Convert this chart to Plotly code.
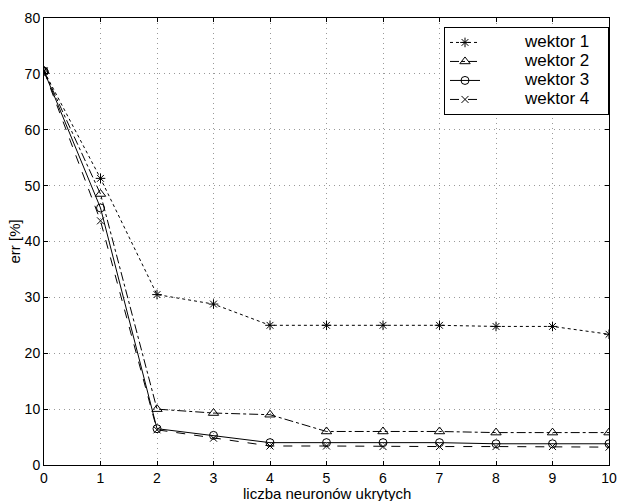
import plotly.graph_objects as go

x_vals = [0, 1, 2, 3, 4, 5, 6, 7, 8, 9, 10]
wektor1 = [70.5, 51.3, 30.5, 28.8, 25.0, 25.0, 25.0, 25.0, 24.8, 24.8, 23.4]
wektor2 = [70.5, 48.5, 10.0, 9.3, 9.0, 6.0, 6.0, 6.0, 5.8, 5.8, 5.8]
wektor3 = [70.5, 46.0, 6.5, 5.3, 4.0, 4.0, 4.0, 4.0, 3.8, 3.8, 3.8]
wektor4 = [70.5, 43.7, 6.3, 4.8, 3.4, 3.4, 3.3, 3.3, 3.3, 3.3, 3.2]
names = ["wektor 1", "wektor 2", "wektor 3", "wektor 4"]
x_ticks = list(range(0, 11))
y_ticks = list(range(0, 81, 10))
x_title = "liczba neuronów ukrytych"
y_title = "err [%]"

series = [wektor1, wektor2, wektor3, wektor4]
dashes = ["dot", "dashdot", "solid", "dash"]
symbols = ["asterisk-open", "triangle-up-open", "circle-open", "x-thin-open"]
msizes = [8, 9, 8, 7]

NB = "\u00a0"
fig = go.Figure()
for s, n, d, sym, ms in zip(series, names, dashes, symbols, msizes):
    fig.add_trace(go.Scatter(
        x=x_vals, y=s,
        name=NB * 12 + '<span style="font-size:17px">' + n + "</span>" + NB * 4,
        mode="lines+markers",
        line=dict(color="black", width=1, dash=d),
        marker=dict(symbol=sym, size=ms, color="black", line=dict(color="black", width=1)),
    ))

axis_common = dict(
    showline=True, linecolor="black", linewidth=1, mirror="ticks",
    ticks="inside", ticklen=4, tickcolor="black",
    showgrid=True, gridcolor="#999999", griddash="1px,4px", gridwidth=1,
    zeroline=False, ticklabeloverflow="allow",
    tickfont=dict(family="Liberation Sans, Arial, sans-serif", size=14, color="black"),
)

fig.update_layout(
    width=623, height=501,
    margin=dict(l=44, r=6, t=18, b=36),
    paper_bgcolor="white", plot_bgcolor="white",
    font=dict(family="Liberation Sans, Arial, sans-serif", color="black"),
    xaxis=dict(range=[0, 10], tickvals=x_ticks, **axis_common),
    yaxis=dict(range=[0, 80], tickvals=y_ticks, **axis_common),
    legend=dict(
        x=1.0, y=0.98, xanchor="right", yanchor="top",
        bgcolor="white", bordercolor="black", borderwidth=1,
        font=dict(size=12, color="black"),
        tracegroupgap=0,
    ),
    showlegend=True,
    annotations=[
        dict(text=x_title, xref="paper", yref="paper", x=0.5, y=0, yshift=-28,
             xanchor="center", yanchor="middle", showarrow=False, font=dict(size=15)),
        dict(text=y_title, xref="paper", yref="paper", x=0, y=0.5, xshift=-30,
             xanchor="center", yanchor="middle", textangle=-90, showarrow=False,
             font=dict(size=15)),
    ],
)

fig.write_html("out.html", config={"displayModeBar": False},
               post_script="document.body.style.margin='0';")
